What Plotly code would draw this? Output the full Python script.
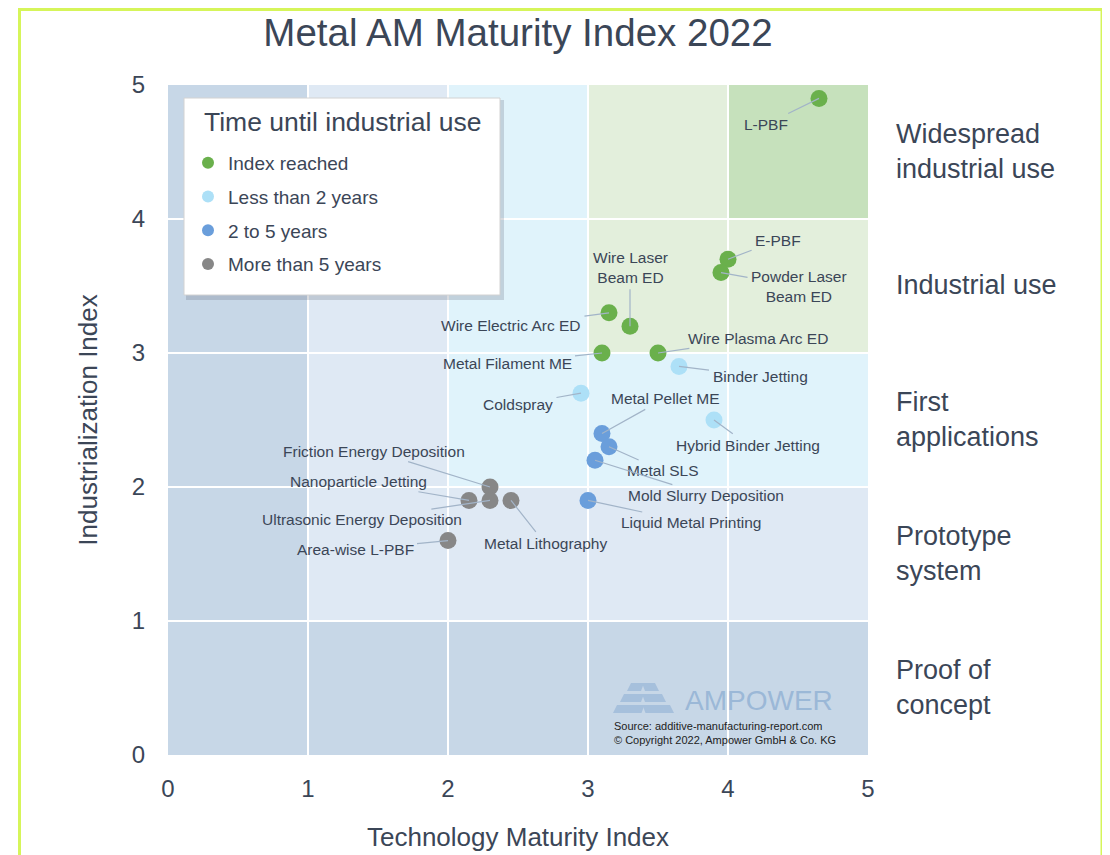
"""
Metal AM Maturity Index 2022 - scatter with staircase maturity zones.
"""

import plotly.graph_objects as go

# ---- data -------------------------------------------------------------
tecnologias = [
    'L-PBF', 'E-PBF', 'Powder Laser<br>Beam ED', 'Wire Electric Arc ED',
    'Wire Laser<br>Beam ED', 'Metal Filament ME', 'Wire Plasma Arc ED',
    'Binder Jetting', 'Coldspray', 'Hybrid Binder Jetting',
    'Metal Pellet ME', 'Metal SLS', 'Mold Slurry Deposition', 'Liquid Metal Printing',
    'Friction Energy Deposition', 'Nanoparticle Jetting',
    'Ultrasonic Energy Deposition', 'Metal Lithography', 'Area-wise L-PBF',
]
maturidade = [4.65, 4.0, 3.95, 3.15, 3.3, 3.1, 3.5,
              3.65, 2.95, 3.9,
              3.1, 3.15, 3.05, 3.0,
              2.3, 2.15, 2.3, 2.45, 2.0]
industrializacao = [4.9, 3.7, 3.6, 3.3, 3.2, 3.0, 3.0,
                    2.9, 2.7, 2.5,
                    2.4, 2.3, 2.2, 1.9,
                    2.0, 1.9, 1.9, 1.9, 1.6]
categoria = [0, 0, 0, 0, 0, 0, 0,
             1, 1, 1,
             2, 2, 2, 2,
             3, 3, 3, 3, 3]

categorias = ['Index reached', 'Less than 2 years', '2 to 5 years', 'More than 5 years']
cores_cat = ['#6ab04c', '#ade0f7', '#6a9edb', '#878787']

niveis = ['Proof of<br>concept', 'Prototype<br>system', 'First<br>applications',
          'Industrial use', 'Widespread<br>industrial use']
nivel_centros = [0.5, 1.5, 2.5, 3.5, 4.5]
cores_zonas = ['#c7d7e7', '#dfe9f4', '#e0f3fb', '#e3efdc', '#c6e1bc']

# label offsets in pixels (ax, ay) relative to each point
OFFSETS = {
    'L-PBF': (-53, 26), 'E-PBF': (50, -19), 'Powder Laser<br>Beam ED': (78, 14),
    'Wire Electric Arc ED': (-98, 13), 'Wire Laser<br>Beam ED': (0, -59),
    'Metal Filament ME': (-95, 10), 'Wire Plasma Arc ED': (100, -15),
    'Binder Jetting': (81, 10), 'Coldspray': (-63, 11), 'Hybrid Binder Jetting': (34, 25),
    'Metal Pellet ME': (63, -35), 'Metal SLS': (54, 24), 'Mold Slurry Deposition': (111, 35),
    'Liquid Metal Printing': (103, 22), 'Friction Energy Deposition': (-116, -36),
    'Nanoparticle Jetting': (-111, -19), 'Ultrasonic Energy Deposition': (-128, 19),
    'Metal Lithography': (34, 43), 'Area-wise L-PBF': (-93, 9),
}

TEXTO = '#3b4657'
FONTE = 'Liberation Sans, Arial, sans-serif'
# the page adds an 8px body margin, figure is sized to fit inside it
OFF = 8
W, H = 1110 - OFF, 855 - OFF
L, T = 168 - OFF, 85 - OFF
PW, PH = 700, 670
R, B = W - L - PW, H - T - PH


def px(x):
    """page pixel x -> paper x"""
    return (x - OFF - L) / PW


def py(y):
    """page pixel y -> paper y"""
    return (T + PH - (y - OFF)) / PH


fig = go.Figure()

for i, nome in enumerate(categorias):
    idx = [k for k, c in enumerate(categoria) if c == i]
    fig.add_trace(go.Scatter(
        x=[maturidade[k] for k in idx],
        y=[industrializacao[k] for k in idx],
        mode='markers',
        name=nome,
        legendgroup=nome,
        marker=dict(size=17, color=cores_cat[i], line=dict(width=0)),
        hoverinfo='skip',
    ))

# staircase zones: level = min(floor(x), floor(y))
shapes = []
for n in range(5):
    cor = cores_zonas[n]
    shapes.append(dict(type='rect', xref='x', yref='y', x0=n, x1=n + 1, y0=n, y1=5,
                       fillcolor=cor, line_width=0, layer='below'))
    if n < 4:
        shapes.append(dict(type='rect', xref='x', yref='y', x0=n + 1, x1=5, y0=n, y1=n + 1,
                           fillcolor=cor, line_width=0, layer='below'))

# legend box with shadow
shapes.append(dict(type='rect', xref='paper', yref='paper',
                   x0=px(186), x1=px(504), y0=py(300), y1=py(100),
                   fillcolor='rgba(80,90,110,0.22)', line_width=0, layer='above'))
shapes.append(dict(type='rect', xref='paper', yref='paper',
                   x0=px(184), x1=px(500), y0=py(295), y1=py(98),
                   fillcolor='white', line=dict(color='#d2d2d2', width=1), layer='above'))

# AMPOWER logo (decorative)
logo_cor = '#a6c0dc'
faixas = [(683, 691, 627, 659), (694, 702, 620, 666), (705, 713, 613, 674)]
for y0, y1, xa, xb in faixas:
    meio = (xa + xb) / 2
    for lado in (-1, 1):
        if lado < 0:
            xs = [xa, meio - 2, meio - 2 + 3, xa + 4]
        else:
            xs = [meio + 2, xb, xb - 4, meio + 2 - 3]
        pts = [(xs[0], y1), (xs[1], y1), (xs[2], y0), (xs[3], y0)]
        path = 'M ' + ' L '.join(f'{px(a):.5f},{py(b):.5f}' for a, b in pts) + ' Z'
        shapes.append(dict(type='path', xref='paper', yref='paper', path=path,
                           fillcolor=logo_cor, line_width=0, layer='above'))

# outer lime frame
shapes.append(dict(type='rect', xref='paper', yref='paper',
                   x0=px(19.5), x1=px(1102), y0=py(880), y1=py(9.5),
                   line=dict(color='#d6f55a', width=3), fillcolor='rgba(0,0,0,0)'))

annotations = []
for nome, x, y in zip(tecnologias, maturidade, industrializacao):
    ax, ay = OFFSETS[nome]
    annotations.append(dict(
        x=x, y=y, xref='x', yref='y', text=nome, showarrow=True,
        ax=ax, ay=ay, arrowhead=0, arrowwidth=1.2, arrowcolor='#a2b4c8',
        standoff=0, startstandoff=2,
        font=dict(size=15.5, color=TEXTO, family=FONTE), align='center',
    ))

for texto, yc in zip(niveis, nivel_centros):
    annotations.append(dict(
        x=1, y=yc, xref='paper', yref='y', text=texto, showarrow=False,
        xanchor='left', yanchor='middle', xshift=26, yshift=1, align='left',
        font=dict(size=27, color=TEXTO, family=FONTE),
    ))

annotations.append(dict(
    x=px(202), y=py(122), xref='paper', yref='paper', text='Time until industrial use',
    showarrow=False, xanchor='left', yanchor='middle',
    font=dict(size=26.5, color=TEXTO, family=FONTE),
))
annotations.append(dict(
    x=px(683), y=py(700), xref='paper', yref='paper', text='AMPOWER', showarrow=False,
    xanchor='left', yanchor='middle', font=dict(size=28, color='#9bb8d7', family=FONTE),
))
annotations.append(dict(
    x=px(612), y=py(733), xref='paper', yref='paper', showarrow=False,
    text='Source: additive-manufacturing-report.com<br>© Copyright 2022, Ampower GmbH & Co. KG',
    xanchor='left', yanchor='middle', align='left',
    font=dict(size=11, color='#222222', family=FONTE),
))

fig.update_layout(
    width=W, height=H,
    margin=dict(l=L, r=R, t=T, b=B),
    paper_bgcolor='white', plot_bgcolor='white',
    font=dict(family=FONTE, color=TEXTO),
    title=dict(text='Metal AM Maturity Index 2022', x=0.5, xref='paper',
               y=1 - 25 / H, yanchor='middle', font=dict(size=38.5, color=TEXTO, family=FONTE)),
    xaxis=dict(range=[0, 5], dtick=1, showgrid=True, gridcolor='white', gridwidth=2,
               zeroline=False, showline=False, ticks='', ticklabelstandoff=17,
               automargin=False, tickfont=dict(size=24, color=TEXTO),
               title=dict(text='Technology Maturity Index', font=dict(size=26, color=TEXTO),
                          standoff=26)),
    yaxis=dict(range=[0, 5], dtick=1, showgrid=True, gridcolor='white', gridwidth=2,
               zeroline=False, showline=False, ticks='', ticklabelstandoff=22,
               automargin=False, tickfont=dict(size=24, color=TEXTO),
               title=dict(text='Industrialization Index', font=dict(size=26, color=TEXTO),
                          standoff=26)),
    legend=dict(
        x=px(188), y=py(144), xanchor='left', yanchor='top',
        bgcolor='rgba(0,0,0,0)', borderwidth=0,
        font=dict(size=19, color=TEXTO),
        traceorder='grouped', tracegroupgap=6, itemsizing='constant',
    ),
    shapes=shapes,
    annotations=annotations,
    showlegend=True,
)

fig.write_html('out.html')
